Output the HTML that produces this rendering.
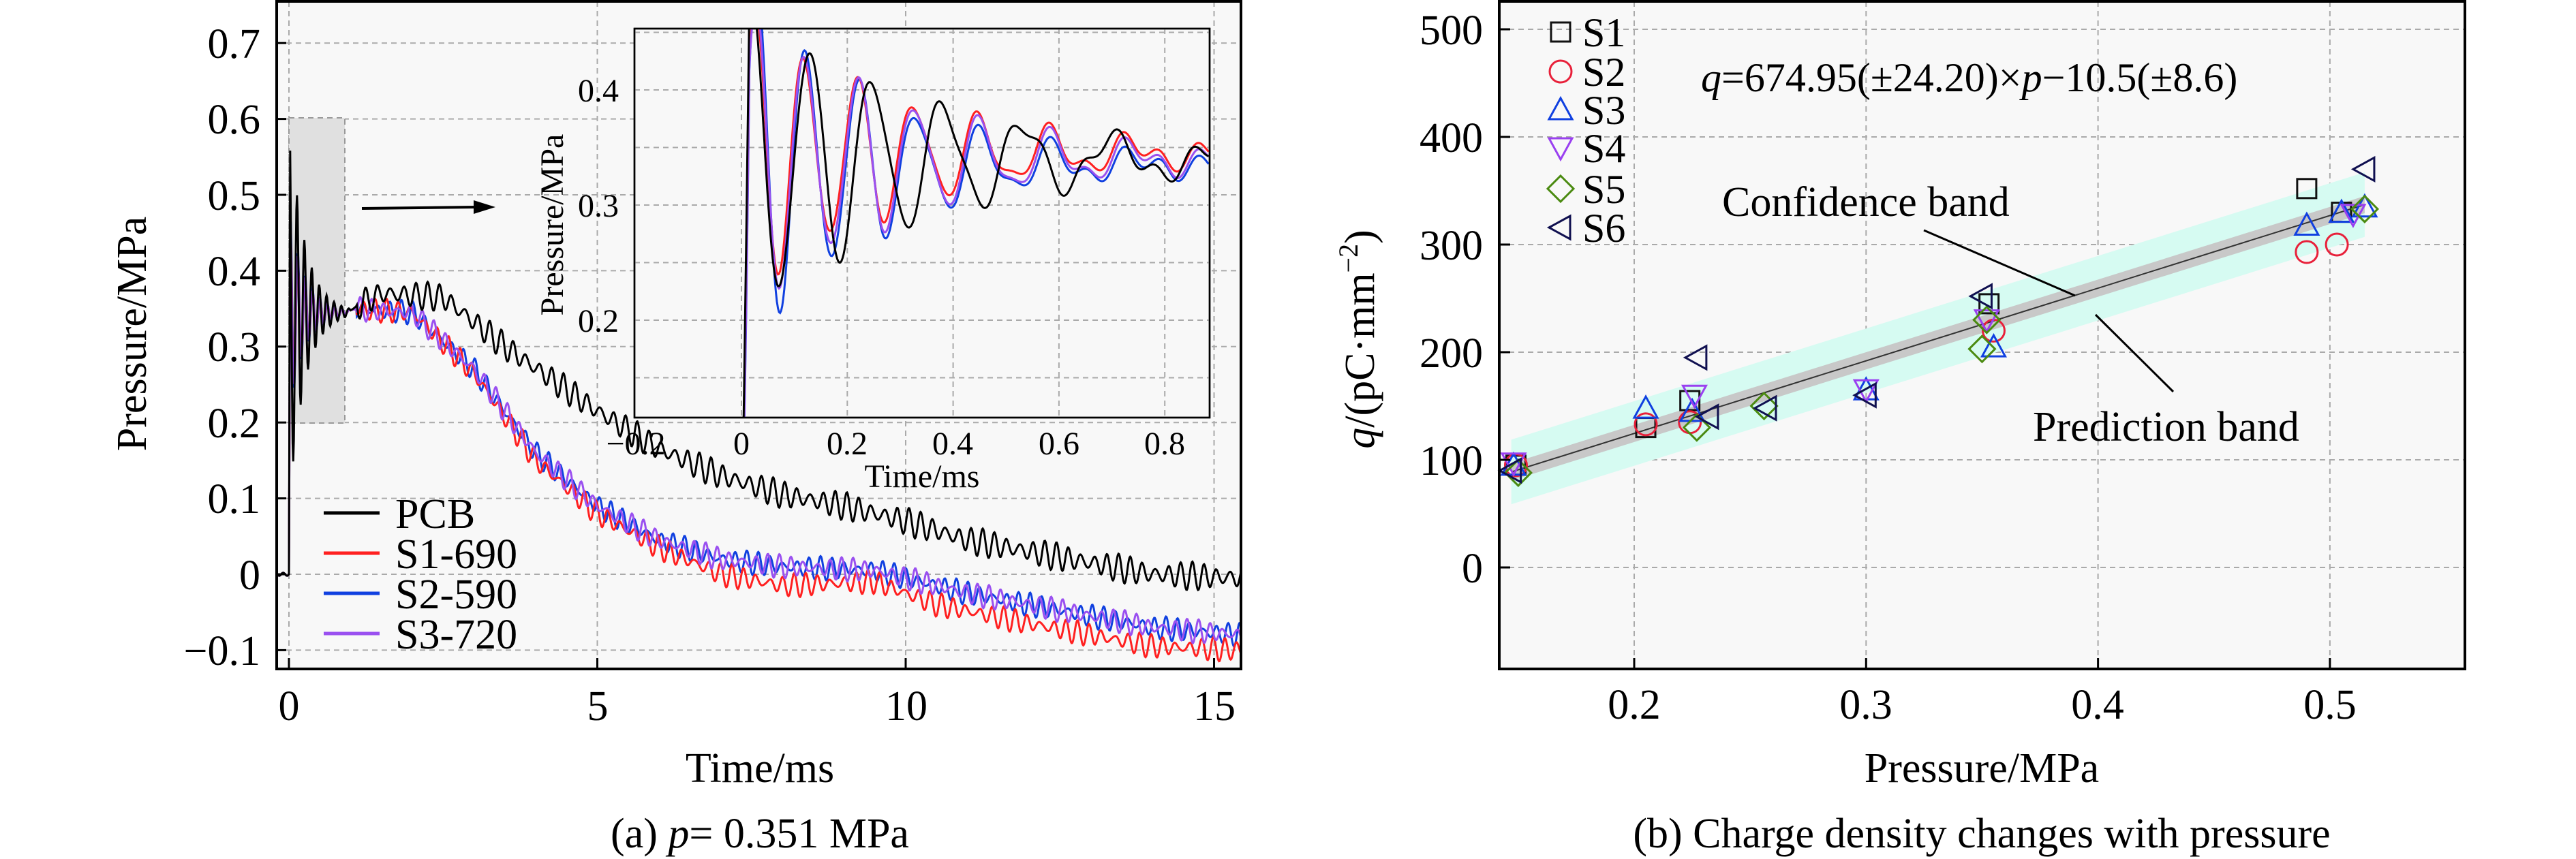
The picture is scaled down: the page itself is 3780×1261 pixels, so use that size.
<!DOCTYPE html>
<html><head><meta charset="utf-8"><style>
html,body{margin:0;padding:0;background:#fff}
svg{display:block}
text{font-family:"Liberation Serif",serif;fill:#000}
</style></head><body>
<svg id="s" width="3780" height="1261" viewBox="0 0 3780 1261" xmlns="http://www.w3.org/2000/svg">
<rect x="0" y="0" width="3780" height="1261" fill="#fff"/>
<!-- LEFT PANEL -->
<rect x="406" y="2" width="1415" height="980" fill="#f8f8f8"/>
<g id="lgrid" stroke="#aaa" stroke-width="2" stroke-dasharray="8,6"></g>
<rect x="424" y="173" width="82" height="448" fill="#e0e0e0" stroke="#999" stroke-width="2" stroke-dasharray="8,6"/>
<g id="lcurves" fill="none" stroke-width="3"></g>
<!-- inset -->
<rect x="931" y="42" width="844" height="571" fill="#f8f8f8" stroke="#000" stroke-width="2.5"/>
<g id="igrid" stroke="#aaa" stroke-width="2" stroke-dasharray="8,6"></g>
<clipPath id="ic"><rect x="931" y="42" width="844" height="571"/></clipPath>
<g id="icurves" fill="none" stroke-width="3" clip-path="url(#ic)"></g>
<rect x="931" y="42" width="844" height="571" fill="none" stroke="#000" stroke-width="2.5"/>
<g font-size="48" text-anchor="middle">
<text x="933" y="667">−0.2</text><text x="1088" y="667">0</text><text x="1243" y="667">0.2</text><text x="1398" y="667">0.4</text><text x="1554" y="667">0.6</text><text x="1709" y="667">0.8</text>
<text x="1353" y="715">Time/ms</text>
</g>
<g font-size="48" text-anchor="end">
<text x="908" y="149">0.4</text><text x="908" y="318">0.3</text><text x="908" y="487">0.2</text>
</g>
<text x="0" y="0" font-size="48" text-anchor="middle" transform="translate(826,330) rotate(-90)">Pressure/MPa</text>
<line x1="531" y1="306" x2="700" y2="304" stroke="#000" stroke-width="4"/>
<polygon points="727,304 695,294 695,314" fill="#000"/>
<!-- legend -->
<g stroke-width="5">
<line x1="475" y1="753" x2="557" y2="753" stroke="#000"/>
<line x1="475" y1="812" x2="557" y2="812" stroke="#ff2020"/>
<line x1="475" y1="871" x2="557" y2="871" stroke="#1040e0"/>
<line x1="475" y1="930" x2="557" y2="930" stroke="#9a50f0"/>
</g>
<g font-size="62">
<text x="580" y="775">PCB</text><text x="580" y="834">S1-690</text><text x="580" y="893">S2-590</text><text x="580" y="952">S3-720</text>
</g>
<rect x="406" y="2" width="1415" height="980" fill="none" stroke="#000" stroke-width="4"/>
<g id="lticks" stroke="#000" stroke-width="3"></g>
<g font-size="62" text-anchor="end">
<text x="382" y="85">0.7</text><text x="382" y="196">0.6</text><text x="382" y="308">0.5</text><text x="382" y="419">0.4</text><text x="382" y="530">0.3</text><text x="382" y="642">0.2</text><text x="382" y="753">0.1</text><text x="382" y="865">0</text><text x="382" y="976">−0.1</text>
</g>
<g font-size="62" text-anchor="middle">
<text x="424" y="1057">0</text><text x="877" y="1057">5</text><text x="1330" y="1057">10</text><text x="1782" y="1057">15</text>
<text x="1115" y="1148">Time/ms</text>
<text x="1115" y="1244">(a) <tspan font-style="italic">p</tspan>= 0.351 MPa</text>
</g>
<text x="0" y="0" font-size="62" text-anchor="middle" transform="translate(214,490) rotate(-90)">Pressure/MPa</text>

<!-- RIGHT PANEL -->
<rect x="2200" y="2" width="1417" height="980" fill="#f8f8f8"/>
<g id="rgrid" stroke="#aaa" stroke-width="2" stroke-dasharray="8,6"></g>
<g id="rband"></g>
<g id="rpts" fill="none" stroke-width="3"></g>
<rect x="2200" y="2" width="1417" height="980" fill="none" stroke="#000" stroke-width="4"/>
<g id="rticks" stroke="#000" stroke-width="3"></g>
<g font-size="62" text-anchor="end">
<text x="2176" y="65">500</text><text x="2176" y="223">400</text><text x="2176" y="381">300</text><text x="2176" y="539">200</text><text x="2176" y="697">100</text><text x="2176" y="855">0</text>
</g>
<g font-size="62" text-anchor="middle">
<text x="2398" y="1055">0.2</text><text x="2738" y="1055">0.3</text><text x="3078" y="1055">0.4</text><text x="3419" y="1055">0.5</text>
<text x="2908" y="1148">Pressure/MPa</text>
<text x="2908" y="1244">(b) Charge density changes with pressure</text>
</g>
<text x="0" y="0" font-size="62" text-anchor="middle" transform="translate(2016,498) rotate(-90)"><tspan font-style="italic">q</tspan>/(pC·mm<tspan font-size="40" dy="-24">−2</tspan><tspan dy="24">)</tspan></text>
<g id="rleg" fill="none" stroke-width="3"></g>
<g font-size="60">
<text x="2322" y="68">S1</text><text x="2322" y="126">S2</text><text x="2322" y="182">S3</text><text x="2322" y="238">S4</text><text x="2322" y="298">S5</text><text x="2322" y="355">S6</text>
</g>
<text x="2496" y="134" font-size="60"><tspan font-style="italic">q</tspan>=674.95(±24.20)×<tspan font-style="italic">p</tspan>−10.5(±8.6)</text>
<text x="2527" y="317" font-size="62">Confidence band</text>
<text x="2983" y="647" font-size="62">Prediction band</text>
<line x1="2823" y1="338" x2="3045" y2="434" stroke="#000" stroke-width="3"/>
<line x1="3075" y1="462" x2="3189" y2="575" stroke="#000" stroke-width="3"/>
</svg>
<script>
const NS="http://www.w3.org/2000/svg";
function el(p,t,a){const e=document.createElementNS(NS,t);for(const k in a)e.setAttribute(k,a[k]);document.getElementById(p).appendChild(e);return e;}
const LX=t=>424+t*90.5, LY=v=>843-v*1114;
[0.7,0.6,0.5,0.4,0.3,0.2,0.1,0,-0.1].forEach(v=>{el('lgrid','line',{x1:406,x2:1821,y1:LY(v),y2:LY(v)});el('lticks','line',{x1:406,x2:420,y1:LY(v),y2:LY(v)});});
[0,5,10,15].forEach(t=>{el('lgrid','line',{x1:LX(t),x2:LX(t),y1:2,y2:982});el('lticks','line',{x1:LX(t),x2:LX(t),y1:982,y2:966});});
function interp(k,t){if(t<=k[0][0])return k[0][1];for(let i=1;i<k.length;i++){if(t<=k[i][0]){const a=k[i-1],b=k[i];return a[1]+(b[1]-a[1])*(t-a[0])/(b[0]-a[0]);}}return k[k.length-1][1];}
const pcb=[[1,0.35],[1.5,0.37],[2.5,0.365],[3.5,0.3],[5,0.215],[6,0.165],[7,0.13],[8,0.105],[9,0.09],[10,0.07],[11,0.045],[12,0.03],[13,0.015],[14,0.0],[15.4,-0.005]];
const s2=[[1,0.35],[2,0.345],[3,0.27],[4,0.16],[5,0.09],[6,0.045],[7,0.02],[8,0.01],[9.5,0.005],[10,-0.005],[11,-0.025],[12,-0.04],[13,-0.055],[14,-0.07],[15.4,-0.08]];
const s1=[[1,0.35],[2,0.345],[3,0.265],[4,0.15],[5,0.08],[6,0.035],[7,0.0],[8,-0.015],[9.5,-0.01],[10.5,-0.04],[12,-0.065],[13,-0.08],[14,-0.095],[15.4,-0.1]];
function early(t,ph,amp){
  if(t<0)return 0.002*Math.sin(t*50);
  const base=0.345, d=Math.exp(-t/0.25);
  let v=base+amp*d*Math.sin(2*Math.PI*t/0.12+ph);
  if(t<0.02)v=v*t/0.02;
  return v;}
function mk(keys,ph,amp,osc,col,idx){
  let d="";for(let t=-0.2;t<=15.43;t+=0.01){
    let v;
    if(t<1)v=early(t,ph,amp);
    else{v=interp(keys,t)+osc*Math.sin(2*Math.PI*t/0.2+idx)+0.006*Math.sin(t*37+idx*3);}
    if(t>0.9&&t<1.1){const w=(t-0.9)/0.2;v=early(Math.min(t,0.999),ph,amp)*(1-w)+(interp(keys,t))*w;}
    d+=(d?"L":"M")+LX(t).toFixed(1)+","+LY(v).toFixed(1);}
  el('lcurves','path',{d:d,stroke:col});}
mk(s2,0.3,0.14,0.01,"#1040e0",1);
mk(s1,0.4,0.13,0.01,"#ff2020",2);
mk(s2,0.5,0.13,0.01,"#9a50f0",3);
mk(pcb,1.0,0.26,0.013,"#000",0);
// inset
const IX=t=>1088+t*776.5, IY=v=>301-(v-0.3)*1690;
[0.45,0.4,0.35,0.3,0.25,0.2,0.15].forEach(v=>el('igrid','line',{x1:931,x2:1775,y1:IY(v),y2:IY(v)}));
[0,0.2,0.4,0.6,0.8].forEach(t=>el('igrid','line',{x1:IX(t),x2:IX(t),y1:42,y2:613}));
function ins(col,A,P,ph,base,tau){
  let d="";for(let t=-0.005;t<=0.885;t+=0.002){
    let v;if(t<0)v=0;else{const p=P*(1+t*0.5);v=base+A*Math.exp(-t/tau)*Math.sin(2*Math.PI*t/p+ph)+0.008*Math.sin(t*90+ph);
      if(t<0.015)v=v*t/0.015;}
    d+=(d?"L":"M")+IX(t).toFixed(1)+","+IY(v).toFixed(1);}
  el('icurves','path',{d:d,stroke:col});}
ins("#1040e0",0.17,0.085,-0.6,0.335,0.25);
ins("#ff2020",0.13,0.085,-0.4,0.345,0.3);
ins("#9a50f0",0.14,0.085,-0.5,0.34,0.3);
ins("#000",0.14,0.1,0.3,0.34,0.35);
// right panel
const RX=p=>2398+(p-0.2)*3403, RY=q=>833-q*1.58;
[500,400,300,200,100,0].forEach(q=>{el('rgrid','line',{x1:2200,x2:3617,y1:RY(q),y2:RY(q)});el('rticks','line',{x1:2200,x2:2216,y1:RY(q),y2:RY(q)});});
[0.2,0.3,0.4,0.5].forEach(p=>{el('rgrid','line',{x1:RX(p),x2:RX(p),y1:2,y2:982});el('rticks','line',{x1:RX(p),x2:RX(p),y1:982,y2:966});});
const f=p=>674.95*p-10.5;
function band(w,col){const a=0.147,b=0.515;el('rband','polygon',{points:`${RX(a)},${RY(f(a)+w)} ${RX(b)},${RY(f(b)+w)} ${RX(b)},${RY(f(b)-w)} ${RX(a)},${RY(f(a)-w)}`,fill:col});}
band(30,"#d6fbf2");band(8,"#c8c8c8");
el('rband','line',{x1:RX(0.147),y1:RY(f(0.147)),x2:RX(0.515),y2:RY(f(0.515)),stroke:"#333","stroke-width":2});
function mark(g,type,x,y,col){const r=14;let e;
  if(type=='s')e=el(g,'rect',{x:x-r,y:y-r,width:2*r,height:2*r});
  else if(type=='c')e=el(g,'circle',{cx:x,cy:y,r:r+2});
  else if(type=='u')e=el(g,'polygon',{points:`${x},${y-r-3} ${x+r+3},${y+r} ${x-r-3},${y+r}`});
  else if(type=='d')e=el(g,'polygon',{points:`${x},${y+r+3} ${x+r+3},${y-r} ${x-r-3},${y-r}`});
  else if(type=='m')e=el(g,'polygon',{points:`${x},${y-r-5} ${x+r+5},${y} ${x},${y+r+5} ${x-r-5},${y}`});
  else e=el(g,'polygon',{points:`${x-r-3},${y} ${x+r},${y-r-3} ${x+r},${y+r+3}`});
  e.setAttribute('stroke',col);}
const S=[
 ['s',"#111",[[0.149,95],[0.205,130],[0.224,155],[0.353,245],[0.49,352],[0.505,330]]],
 ['c',"#e8203a",[[0.149,95],[0.205,133],[0.224,135],[0.355,220],[0.49,293],[0.503,300]]],
 ['u',"#1040e0",[[0.148,95],[0.205,148],[0.225,145],[0.3,165],[0.355,205],[0.49,318],[0.505,330],[0.515,335]]],
 ['d',"#9a40f0",[[0.148,97],[0.226,160],[0.3,165],[0.352,230],[0.51,328]]],
 ['m',"#4a8a10",[[0.15,88],[0.227,130],[0.256,150],[0.35,203],[0.352,230],[0.515,333]]],
 ['l',"#101050",[[0.147,90],[0.227,195],[0.232,140],[0.257,148],[0.3,160],[0.35,252],[0.515,370]]]];
S.forEach(s=>s[2].forEach(p=>mark('rpts',s[0],RX(p[0]),RY(p[1]),s[1])));
const ly=[47,105,161,217,277,334];
S.forEach((s,i)=>mark('rleg',s[0],2290,ly[i],s[1]));
</script>
</body></html>
